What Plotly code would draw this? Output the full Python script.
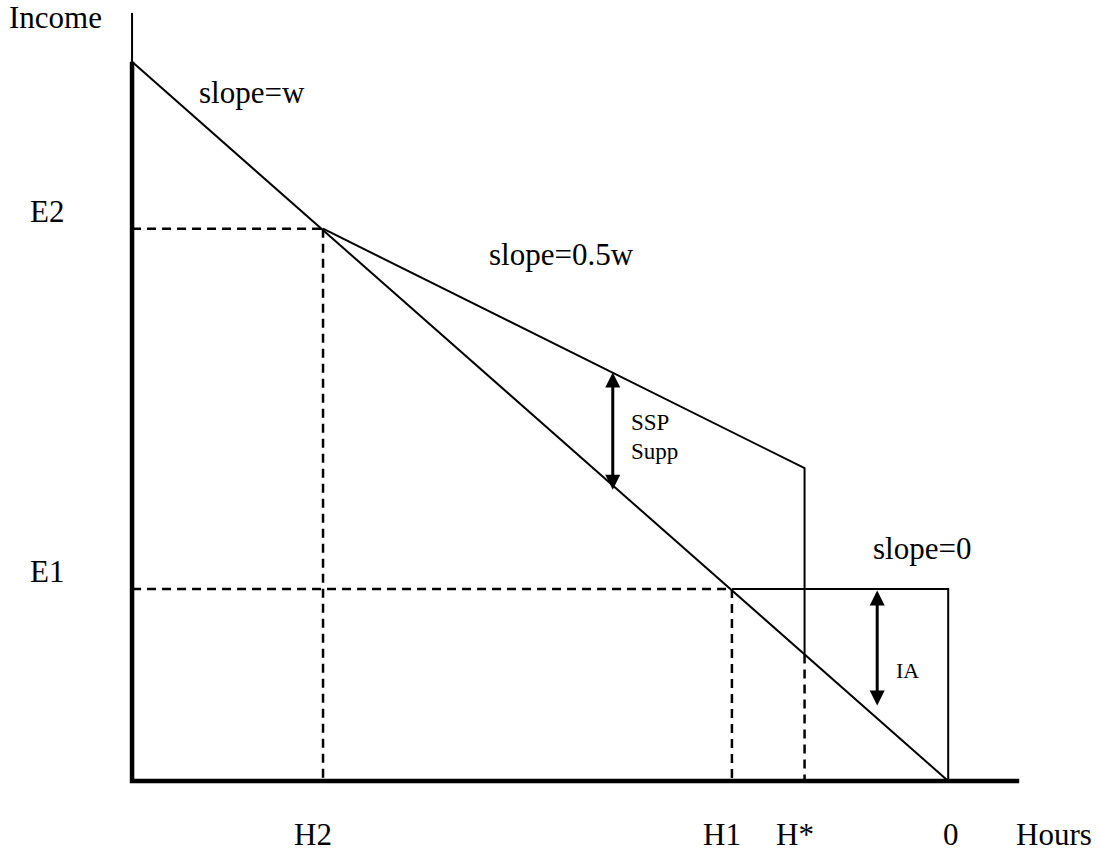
import plotly.graph_objects as go

# budget constraint diagram, hours of leisure on x (0 hours worked at the right)
hour_labels = ["H2", "H1", "H*", "0"]
hour_values = [23.4, 73.5, 82.4, 100.0]
income_labels = ["E2", "E1"]
income_values = [76.8, 26.7]

# original budget line, slope = w
budget_x = [0.0, 100.0]
budget_y = [100.0, 0.0]

# SSP supplement segment (slope = 0.5w) then drop at H*
ssp_x = [23.4, 82.4, 82.4]
ssp_y = [76.8, 43.5, 17.6]

# IA floor (slope = 0)
ia_x = [73.5, 100.0, 100.0]
ia_y = [26.7, 26.7, 0.0]

# double arrows: (x, y_top, y_bottom)
ssp_arrow = [58.9, 56.8, 40.3]
ia_arrow = [91.3, 26.5, 10.3]

axis_top = 106.8
axis_right = 108.7

FONT = "Liberation Serif"
BLACK = "#000000"

fig = go.Figure()

# axes
fig.add_trace(go.Scatter(x=[0, 0, axis_right], y=[100, 0, 0], mode="lines",
                         line=dict(color=BLACK, width=4.5), hoverinfo="skip"))
fig.add_trace(go.Scatter(x=[0, 0], y=[100, axis_top], mode="lines",
                         line=dict(color=BLACK, width=2), hoverinfo="skip"))

# dashed guides
h2, h1, hstar = hour_values[0], hour_values[1], hour_values[2]
e2, e1 = income_values
dash_x = [0, h2, None, h2, h2, None, 0, h1, None, h1, h1, None, hstar, hstar]
dash_y = [e2, e2, None, e2, 0, None, e1, e1, None, e1, 0, None, ssp_y[2], 0]
fig.add_trace(go.Scatter(x=dash_x, y=dash_y, mode="lines",
                         line=dict(color=BLACK, width=2.5, dash="9px,6px"), hoverinfo="skip"))

# budget lines
for xs, ys in [(budget_x, budget_y), (ssp_x, ssp_y), (ia_x, ia_y)]:
    fig.add_trace(go.Scatter(x=xs, y=ys, mode="lines",
                             line=dict(color=BLACK, width=2), hoverinfo="skip"))

# double-headed arrows
for ax_x, top, bot in [ssp_arrow, ia_arrow]:
    fig.add_annotation(x=ax_x, y=top, ax=ax_x, ay=bot, xref="x", yref="y",
                       axref="x", ayref="y", text="", showarrow=True,
                       arrowhead=2, startarrowhead=2, arrowside="end+start",
                       arrowsize=1, startarrowsize=1, arrowwidth=3, arrowcolor=BLACK)

def label(x, y, text, size=31, xanchor="center", xshift=0, yshift=0):
    fig.add_annotation(x=x, y=y, xref="x", yref="y", text=text, showarrow=False,
                       xanchor=xanchor, yanchor="middle", xshift=xshift, yshift=yshift,
                       font=dict(family=FONT, size=size, color=BLACK))

# axis titles and tick labels
label(-9.4, 106.1, "Income")
label(113.0, -7.4, "Hours")
for name, v in zip(hour_labels, hour_values):
    label(v, -7.4, name, xshift=-10 if name != "0" else 3)
for name, v in zip(income_labels, income_values):
    label(-10.4, v, name, yshift=17)

# slope and area labels
label(14.7, 95.8, "slope=w")
label(52.6, 73.2, "slope=0.5w")
label(96.8, 32.4, "slope=0")
label(60.9, 49.8, "SSP", size=23, xanchor="left")
label(60.9, 45.8, "Supp", size=23, xanchor="left")
label(95.0, 15.4, "IA", size=22)

fig.update_layout(
    width=1100, height=854,
    margin=dict(l=0, r=0, t=0, b=0),
    paper_bgcolor="white", plot_bgcolor="white",
    showlegend=False,
    xaxis=dict(range=[-16.18, 118.6], visible=False, fixedrange=True),
    yaxis=dict(range=[-10.15, 108.6], visible=False, fixedrange=True),
)

# drop the default 8px body margin so the figure fills the window exactly
fig.write_html("out.html", config={"displayModeBar": False},
               post_script="document.body.style.margin='0';")
